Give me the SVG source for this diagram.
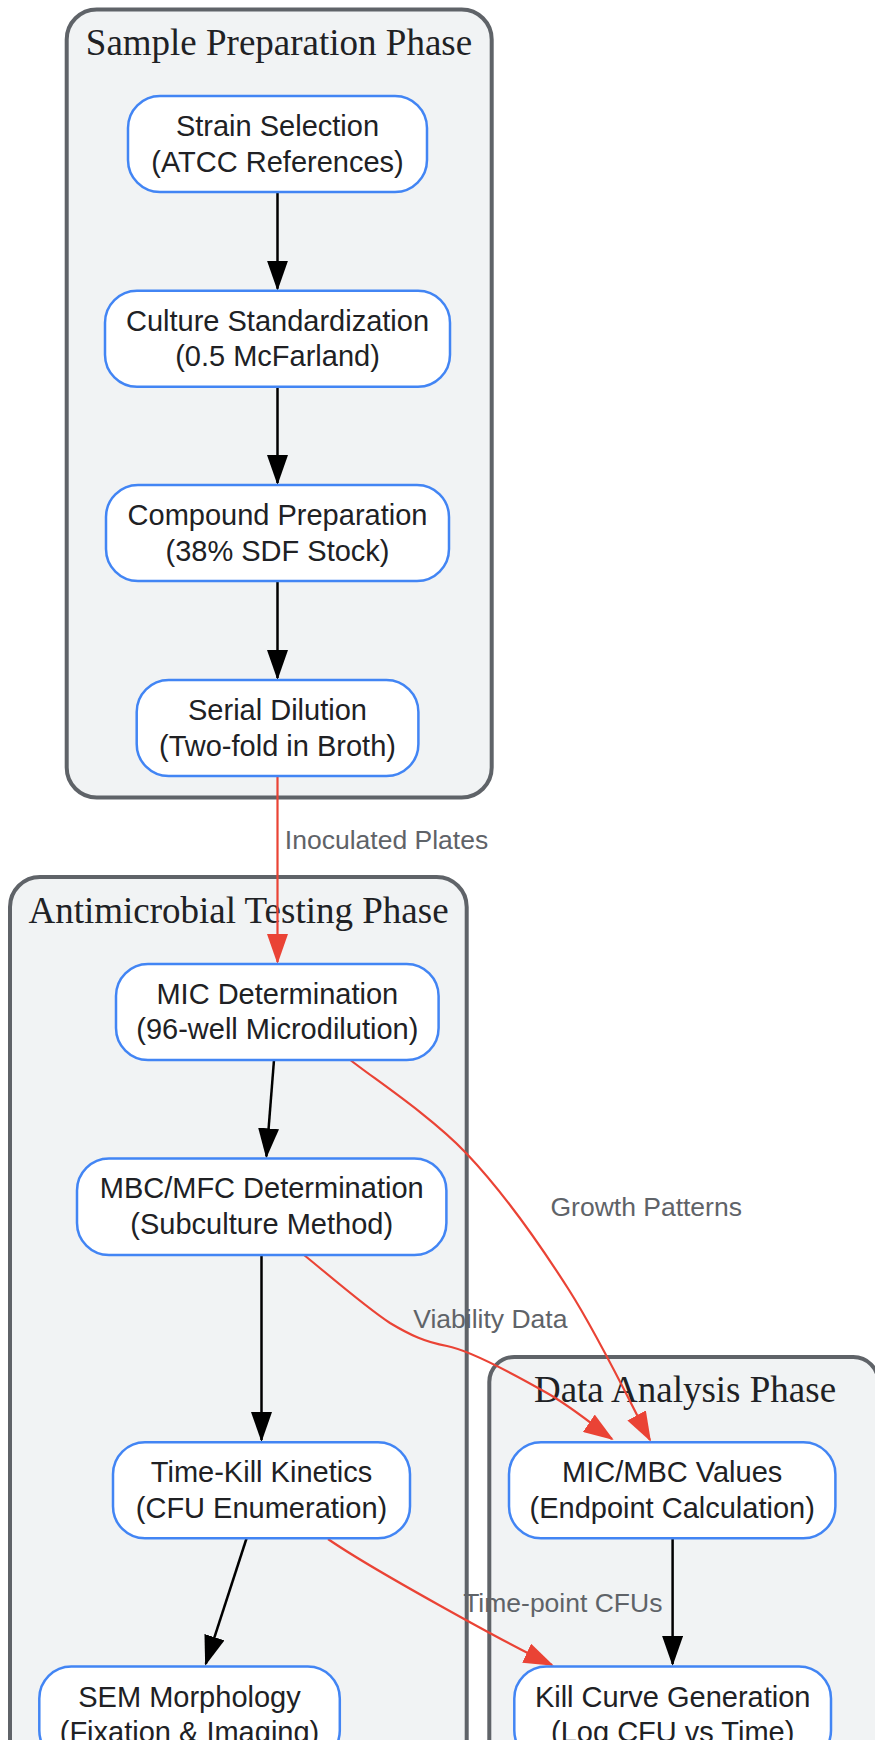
<svg xmlns="http://www.w3.org/2000/svg" width="875" height="1740" viewBox="0 0 875 1740">
<style>
.cluster rect{fill:#f1f3f4;stroke:#5f6368;stroke-width:4}
.ctitle{font-family:"Liberation Serif","Times New Roman",serif;font-size:37px;fill:#202124;text-anchor:middle}
.node rect{fill:#ffffff;stroke:#4285f4;stroke-width:2.5}
.node text{font-family:"Liberation Sans",Arial,sans-serif;font-size:29px;fill:#202124;text-anchor:middle}
.e{fill:none;stroke:#000;stroke-width:2.5}
.r{fill:none;stroke:#ea4335;stroke-width:2.2}
.lbl{font-family:"Liberation Sans",Arial,sans-serif;font-size:26.5px;fill:#5f6368;text-anchor:middle}
</style>
<defs>
<marker id="ab" markerUnits="userSpaceOnUse" markerWidth="30" markerHeight="21" refX="28" refY="10.5" orient="auto" viewBox="0 0 30 21"><path d="M0,0 L30,10.5 L0,21 z" fill="#000"/></marker>
<marker id="ar" markerUnits="userSpaceOnUse" markerWidth="30" markerHeight="21" refX="28" refY="10.5" orient="auto" viewBox="0 0 30 21"><path d="M0,0 L30,10.5 L0,21 z" fill="#ea4335"/></marker>
</defs>
<rect width="875" height="1740" fill="#ffffff"/>
<g id="clusters">
<g id="cluster-prep" class="cluster"><rect x="66.7" y="9.5" width="425" height="788" rx="30"/><text class="ctitle" x="279" y="55">Sample Preparation Phase</text></g>
<g id="cluster-test" class="cluster"><rect x="10" y="877" width="456.7" height="950" rx="30"/><text class="ctitle" x="238.5" y="923">Antimicrobial Testing Phase</text></g>
<g id="cluster-analysis" class="cluster"><rect x="489.3" y="1357" width="389" height="470" rx="25"/><text class="ctitle" x="685" y="1402">Data Analysis Phase</text></g>
</g>
<g id="connectors">
<path class="e" marker-end="url(#ab)" d="M277.5,192 L277.5,288.7"/>
<path class="e" marker-end="url(#ab)" d="M277.5,386.7 L277.5,483"/>
<path class="e" marker-end="url(#ab)" d="M277.5,581 L277.5,678"/>
<path class="e" marker-end="url(#ab)" d="M274,1060 L266.4,1156.3"/>
<path class="e" marker-end="url(#ab)" d="M261.5,1255 L261.5,1440"/>
<path class="e" marker-end="url(#ab)" d="M246.5,1538.5 L205.8,1663.8"/>
<path class="e" marker-end="url(#ab)" d="M672.6,1538.5 L672.6,1664"/>
<path class="r" marker-end="url(#ar)" d="M277.5,776 L277.5,962"/>
<path class="r" marker-end="url(#ar)" d="M350.4,1060 C369.3,1075.5 429.5,1114.7 466,1153 C502.5,1191.3 538.2,1241.8 569,1290 C599.8,1338.2 637.3,1416.7 650,1440"/>
<path class="r" marker-end="url(#ar)" d="M304,1255 C318.3,1266.3 366.2,1307.8 390,1323 C410,1335 425,1342 447,1346 C470,1350.2 519.3,1377.3 547,1393 C574.7,1408.7 602,1432.2 612,1439"/>
<path class="r" marker-end="url(#ar)" d="M328,1539 C368,1567 509,1645 552,1665"/>
</g>
<g id="edge-labels">
<text class="lbl" x="386.5" y="849">Inoculated Plates</text>
<text class="lbl" x="646.2" y="1215.7">Growth Patterns</text>
<text class="lbl" x="490.3" y="1327.7">Viability Data</text>
<text class="lbl" x="562.8" y="1611.7">Time-point CFUs</text>
</g>
<g id="nodes">
<g id="n-strain" class="node"><rect x="128" y="96" width="299" height="96" rx="32"/><text x="277.5" y="136">Strain Selection</text><text x="277.5" y="171.7">(ATCC References)</text></g>
<g id="n-culture" class="node"><rect x="105" y="290.7" width="345" height="96" rx="32"/><text x="277.5" y="330.7">Culture Standardization</text><text x="277.5" y="366.4">(0.5 McFarland)</text></g>
<g id="n-compound" class="node"><rect x="106" y="485" width="343" height="96" rx="32"/><text x="277.5" y="525">Compound Preparation</text><text x="277.5" y="560.7">(38% SDF Stock)</text></g>
<g id="n-serial" class="node"><rect x="136.7" y="680" width="281.7" height="96" rx="32"/><text x="277.5" y="720">Serial Dilution</text><text x="277.5" y="755.7">(Two-fold in Broth)</text></g>
<g id="n-mic" class="node"><rect x="116" y="964" width="322.6" height="96" rx="32"/><text x="277.3" y="1003.5">MIC Determination</text><text x="277.3" y="1039.2">(96-well Microdilution)</text></g>
<g id="n-mbc" class="node"><rect x="77" y="1158.5" width="369.4" height="96.5" rx="32"/><text x="261.7" y="1198">MBC/MFC Determination</text><text x="261.7" y="1233.7">(Subculture Method)</text></g>
<g id="n-timekill" class="node"><rect x="113" y="1442.3" width="297" height="96" rx="32"/><text x="261.5" y="1482">Time-Kill Kinetics</text><text x="261.5" y="1517.7">(CFU Enumeration)</text></g>
<g id="n-sem" class="node"><rect x="39.3" y="1666.5" width="300.5" height="96" rx="32"/><text x="189.5" y="1706.5">SEM Morphology</text><text x="189.5" y="1742.2">(Fixation &amp; Imaging)</text></g>
<g id="n-values" class="node"><rect x="509" y="1442.3" width="326.4" height="96" rx="32"/><text x="672.2" y="1482">MIC/MBC Values</text><text x="672.2" y="1517.7">(Endpoint Calculation)</text></g>
<g id="n-killcurve" class="node"><rect x="514.3" y="1666.5" width="316.7" height="96" rx="32"/><text x="672.7" y="1706.5">Kill Curve Generation</text><text x="672.7" y="1742.2">(Log CFU vs Time)</text></g>
</g>
</svg>
